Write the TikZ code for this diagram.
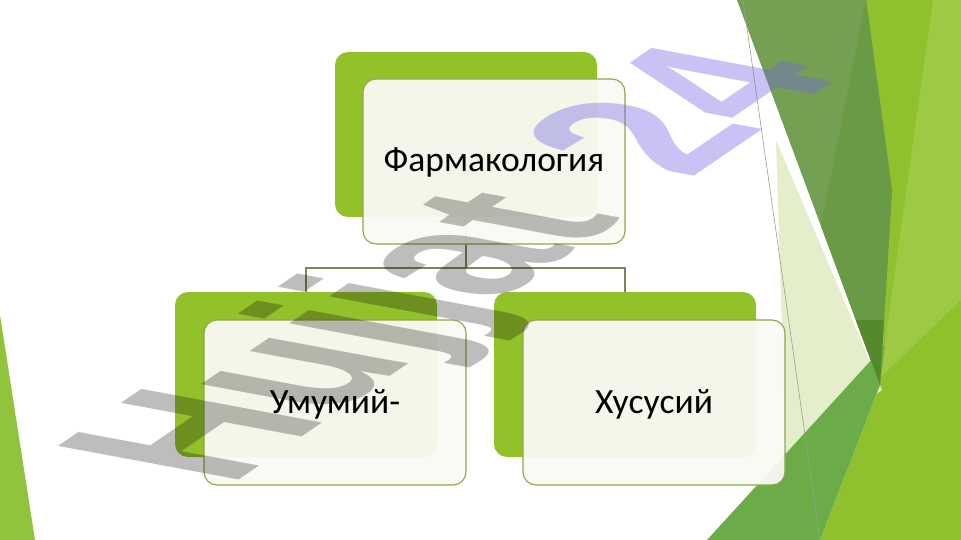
\documentclass[tikz,border=0pt]{standalone}
\usepackage{fontspec}
\setmainfont{Carlito}
\newfontfamily\wmfont{Liberation Sans}
\definecolor{boxgreen}{RGB}{146,193,42}
\definecolor{frontfill}{RGB}{250,250,244}
\definecolor{frontline}{RGB}{143,165,72}
\definecolor{connline}{RGB}{125,135,85}
\definecolor{facetA}{RGB}{143,192,45}
\definecolor{facetB}{RGB}{157,201,68}
\definecolor{facetC}{RGB}{117,159,82}
\definecolor{facetD}{RGB}{106,154,70}
\definecolor{facetE}{RGB}{228,238,202}
\definecolor{facetF}{RGB}{108,172,72}
\definecolor{facetG}{RGB}{84,138,44}
\definecolor{facetL}{RGB}{146,195,60}
\definecolor{thinline}{RGB}{150,160,150}
\definecolor{wmlav}{RGB}{114,101,229}
\tikzset{
  backbox/.style={rectangle, rounded corners=13pt, fill=boxgreen, minimum width=262pt, minimum height=165pt, inner sep=0pt, outer sep=0pt},
  frontbox/.style={rectangle, rounded corners=13pt, fill=frontfill, fill opacity=0.94, text opacity=1, draw=frontline, line width=1.1pt, minimum width=262pt, minimum height=165pt, inner sep=0pt, outer sep=0pt, font=\fontsize{35.5}{42}\selectfont, text height=24pt, text depth=3pt},
  conn/.style={draw=connline, line width=1.2pt},
  wmtext/.style={inner sep=0pt, outer sep=0pt, anchor=base west, transform shape, font=\wmfont\bfseries\fontsize{100}{100}\selectfont},
}
\begin{document}
\begin{tikzpicture}[x=1pt,y=-1pt]
\useasboundingbox (0,0) rectangle (961,540);
\clip (0,0) rectangle (961,540);
\fill[white] (0,0) rectangle (961,540);
% facets on the right
\fill[facetA] (866,0) -- (961,0) -- (961,540) -- (820,540) -- (880,385) -- cycle;
\fill[facetB] (933,0) -- (961,0) -- (961,300) -- (880,378) -- cycle;
\fill[facetE] (776,140) -- (882,390) -- (786,458) -- cycle;
\fill[facetC] (737,0) -- (866,0) -- (892,190) -- (880,385) -- cycle;
\fill[facetD] (866,0) -- (892,190) -- (880,385) -- (821,226) -- cycle;
\fill[facetF] (707,540) -- (820,540) -- (880,385) -- (885,345) -- cycle;
\fill[facetG] (855.8,320) -- (884,320) -- (880,385) -- cycle;
\draw[thinline, line width=0.6pt] (743,0) -- (820,540);
% left facet
\fill[facetL] (0,315) -- (35,540) -- (0,540) -- cycle;
% hierarchy
\node[backbox] (topB) at (466,134.5) {};
\node[backbox] (leftB) at (306,374.5) {};
\node[backbox] (rightB) at (625,374.5) {};
\coordinate (bus) at (466,268);
\draw[conn] (topB.south) -- (bus);
\draw[conn] (bus) -| (leftB.north);
\draw[conn] (bus) -| (rightB.north);
\node[frontbox] (topF) at (494,161.5) {Фармакология};
\node[frontbox] (leftF) at (335,402.5) {Умумий-};
\node[frontbox] (rightF) at (654,402.5) {Хусусий};
% watermark
\begin{scope}[cm={1.42,0.97,-2.626,0.489,(229.3,486.2)}]
\node[wmtext, text=black, text opacity=0.26] (wmA) at (0,0) {Hujjat};
\end{scope}
\begin{scope}[cm={1.42,0.97,-2.626,0.489,(689,180)}]
\node[wmtext, text=wmlav, text opacity=0.39] (wmB) at (0,0) {24};
\end{scope}
\end{tikzpicture}
\end{document}
